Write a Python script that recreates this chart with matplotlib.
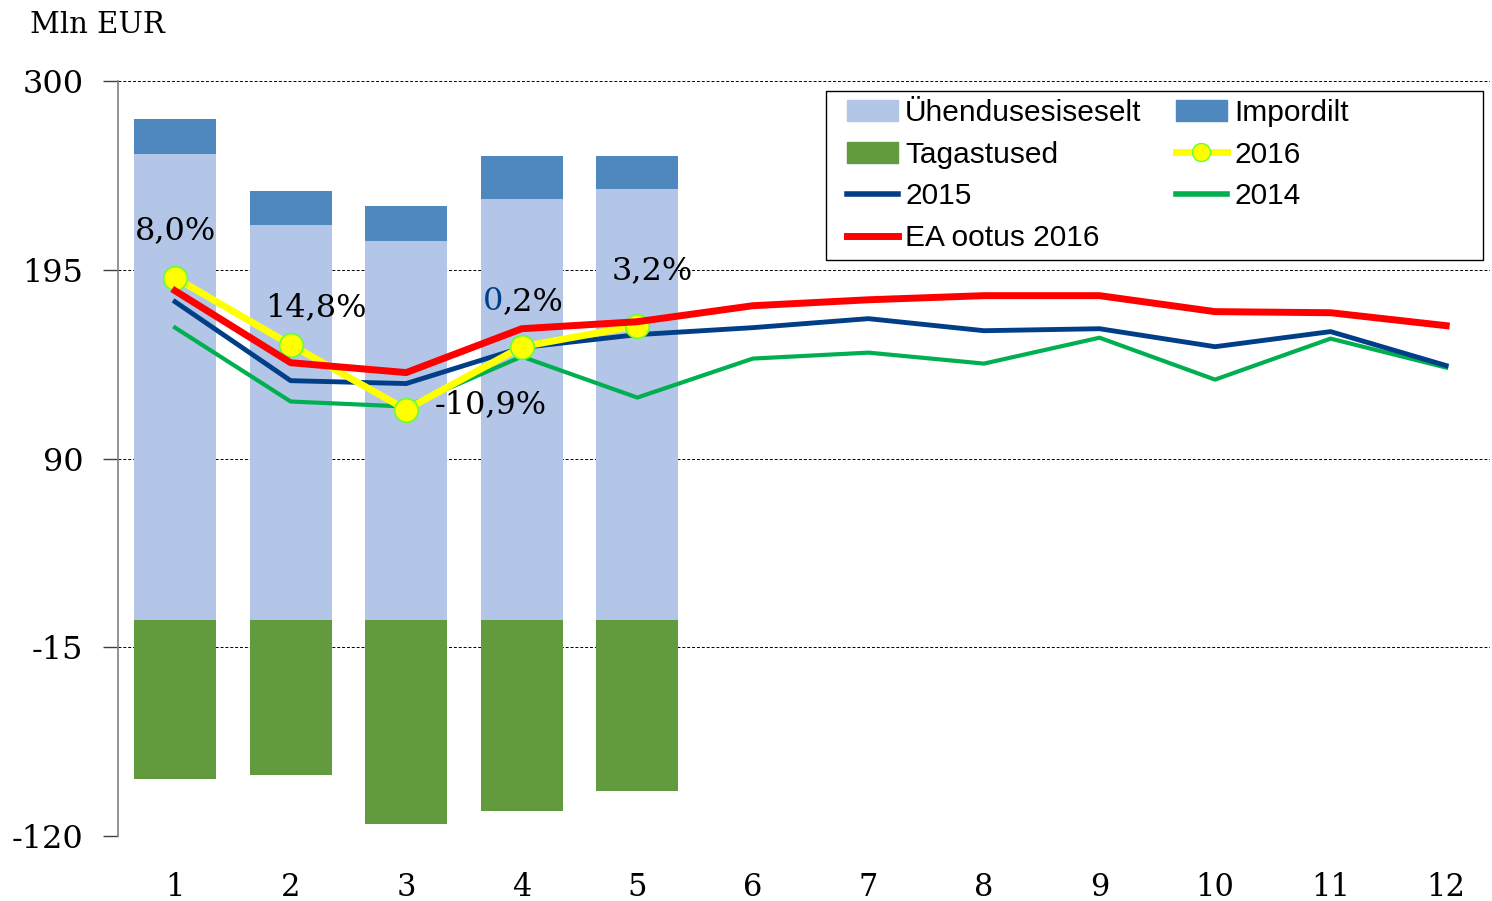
"""Monthly Mln EUR chart: stacked bars with yearly comparison lines."""

import matplotlib
import matplotlib.pyplot as plt
from matplotlib.lines import Line2D
from matplotlib.patches import Patch, Rectangle

matplotlib.use("Agg")

months = [1, 2, 3, 4, 5, 6, 7, 8, 9, 10, 11, 12]
bar_months = [1, 2, 3, 4, 5]

# bar data (Mln EUR)
uhendus = [259.4, 220.0, 211.0, 234.4, 240.0]
import_vals = [19.5, 19.0, 19.5, 24.0, 18.3]
tagastused = [-88.3, -86.1, -113.3, -106.1, -95.0]

# line data (Mln EUR)
y2016 = [190.6, 153.3, 117.2, 152.2, 163.9]
y2015 = [177.2, 133.3, 131.7, 151.7, 158.9, 162.8, 167.8, 161.1, 162.2, 152.2, 160.6, 141.7]
y2014 = [162.8, 121.7, 118.9, 146.7, 123.9, 145.6, 148.9, 142.8, 157.2, 133.9, 156.7, 140.6]
ea_2016 = [183.3, 143.3, 137.8, 162.2, 166.1, 175.0, 178.3, 180.6, 180.6, 171.7, 171.1, 163.9]

yticks = [-120, -15, 90, 195, 300]

SERIF = ["DejaVu Serif"]
SANS = ["Liberation Sans", "DejaVu Sans"]

fig = plt.figure(figsize=(14.92, 9.01), dpi=100)
ax = fig.add_axes([0.0791, 0.0721, 0.9196, 0.838])

c_light = "#B3C6E7"
c_imp = "#4F88BE"
c_green = "#629A3E"
c_2015 = "#003F87"
c_2014 = "#00B050"
c_red = "#FF0000"

ax.bar(bar_months, uhendus, width=0.71, color=c_light, zorder=2)
ax.bar(bar_months, import_vals, width=0.71, bottom=uhendus, color=c_imp, zorder=2)
ax.bar(bar_months, tagastused, width=0.71, color=c_green, zorder=2)

ax.plot(months, y2014, color=c_2014, lw=3, zorder=3)
ax.plot(months, y2015, color=c_2015, lw=3.5, zorder=4)
ax.plot(bar_months, y2016, color="#FFFF00", lw=5, marker="o", markersize=17,
        markerfacecolor="#FFFF00", markeredgecolor="#66FF33", markeredgewidth=1.2, zorder=5)
ax.plot(months, ea_2016, color=c_red, lw=5, zorder=6)

# growth labels
lab_kw = dict(fontsize=23, family=SERIF, zorder=7)
ax.text(1.0, 216.7, "8,0%", ha="center", va="center", **lab_kw)
ax.text(2.22, 173.9, "14,8%", ha="center", va="center", **lab_kw)
ax.text(3.73, 120, "-10,9%", ha="center", va="center", **lab_kw)
ax.text(3.84, 177.2, "0", ha="right", va="center", color=c_2015, **lab_kw)
ax.text(3.84, 177.2, ",2%", ha="left", va="center", **lab_kw)
ax.text(5.13, 194.4, "3,2%", ha="center", va="center", **lab_kw)

ax.set_xlim(0.506, 12.38)
ax.set_ylim(-120, 300)
ax.set_yticks(yticks)
ax.set_yticklabels([str(t) for t in yticks], fontsize=23, family=SERIF)
ax.set_xticks(months)
ax.set_xticklabels([str(m) for m in months], fontsize=22, family=SERIF)
ax.tick_params(axis="x", length=0, pad=26)
ax.tick_params(axis="y", length=11, width=1, color="#404040", pad=14)

ax.grid(axis="y", color="black", linestyle=(0, (3, 2)), lw=0.7, zorder=1)
for side in ["top", "right", "bottom"]:
    ax.spines[side].set_visible(False)
ax.spines["left"].set_color("#808080")
ax.spines["left"].set_linewidth(1.2)

fig.text(0.02, 0.972, "Mln EUR", fontsize=21, family=SERIF, va="center")

# legend frame drawn separately so it can be wider than its contents
ax.add_patch(Rectangle((0.516, 0.7629), 0.9949 - 0.516, 0.9868 - 0.7629,
                       transform=ax.transAxes, facecolor="white", edgecolor="black",
                       lw=1.0, zorder=8))

handles = [
    Patch(color=c_light, label="Ühendusesiseselt"),
    Patch(color=c_green, label="Tagastused"),
    Line2D([], [], color=c_2015, lw=4, label="2015"),
    Line2D([], [], color=c_red, lw=5, label="EA ootus 2016"),
    Patch(color=c_imp, label="Impordilt"),
    Line2D([], [], color="#FFFF00", lw=5, marker="o", markersize=13,
           markerfacecolor="#FFFF00", markeredgecolor="#66FF33", label="2016"),
    Line2D([], [], color=c_2014, lw=4, label="2014"),
]
leg = ax.legend(handles=handles, ncol=2, loc="upper left", bbox_to_anchor=(0.5313, 0.9762),
                prop={"family": SANS, "size": 21.5}, frameon=False,
                handlelength=1.7, handletextpad=0.25, columnspacing=1.15,
                labelspacing=0.46, borderpad=0, borderaxespad=0)
leg.set_zorder(9)

plt.savefig("out.png", dpi=100)
plt.close()
